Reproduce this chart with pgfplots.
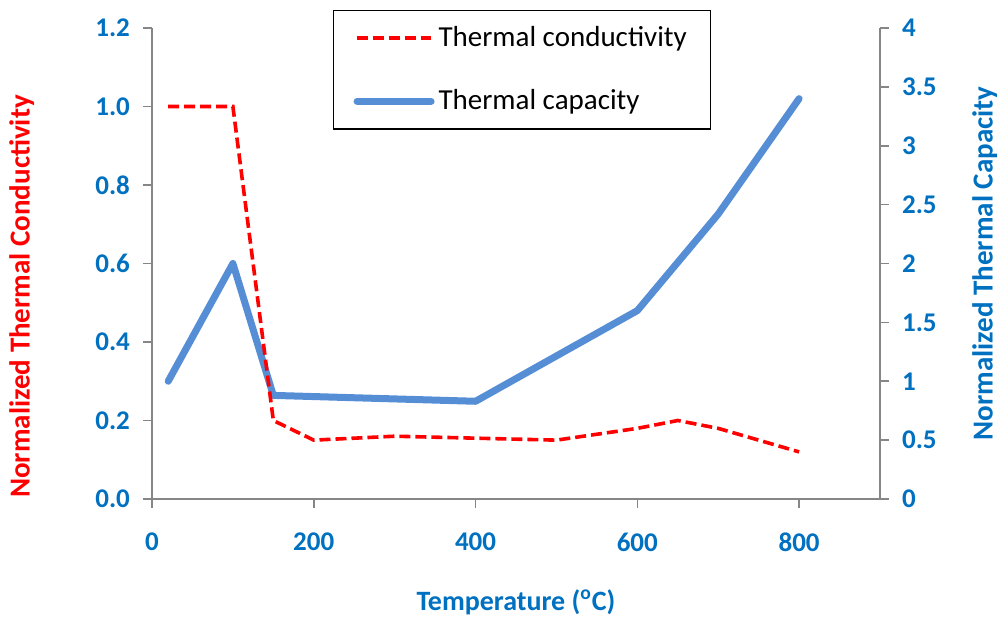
\documentclass[border=0pt]{standalone}
\usepackage{pgfplots}
\pgfplotsset{compat=1.18}
\usepackage{fontspec}
\setmainfont{Carlito}
\definecolor{tickblue}{RGB}{0,112,192}
\definecolor{capblue}{RGB}{85,142,213}
\definecolor{axgray}{RGB}{134,134,134}

\begin{document}
\begin{tikzpicture}
\path[use as bounding box] (-76pt,-59.5pt) rectangle (423.5pt,249.5pt);
\pgfplotsset{
  every axis/.append style={
    scale only axis, width=364pt, height=235.5pt,
    xmin=0, xmax=900,
    axis line style={axgray, line width=0.8pt},
    tick style={axgray, line width=0.8pt},
    major tick length=4.5pt,
    tick align=outside,
    ticklabel style={font=\fontsize{13.5}{15}\selectfont\bfseries, text=tickblue},
    /pgf/number format/assume math mode=true,
    label style={font=\fontsize{14.5}{16}\selectfont\bfseries},
    clip=false,
  },
}
% thermal capacity, right axis (drawn first so the red line lies on top)
\begin{axis}[
  axis x line=none,
  axis y line*=right,
  ymin=0, ymax=4,
  ytick={0,0.5,...,4},
  yticklabel style={xshift=3pt},
  ylabel={Normalized Thermal Capacity},
  ylabel style={at={(axis description cs:1.144,0.5)}, anchor=center, text=tickblue},
]
\addplot[capblue, line width=3.5pt, line cap=round, line join=round] coordinates {
(20,1.0) (100,2.0) (150,0.88) (400,0.83) (600,1.6) (700,2.42) (800,3.4)
};
\end{axis}
% thermal conductivity, left axis
\begin{axis}[
  axis x line*=bottom,
  axis y line*=left,
  ymin=0, ymax=1.2,
  ytick={0,0.2,...,1.2},
  xtick={0,200,...,800},
  yticklabel style={/pgf/number format/.cd, fixed, fixed zerofill, precision=1, /tikz/.cd, xshift=-3pt},
  xticklabel style={yshift=-9pt},
  ylabel={Normalized Thermal Conductivity},
  ylabel style={at={(axis description cs:-0.179,0.43)}, anchor=center, text=red},
  xlabel={Temperature (\textsuperscript{o}C)},
  xlabel style={at={(axis description cs:0.5,-0.219)}, anchor=center, text=tickblue, font=\fontsize{14}{16}\selectfont\bfseries},
  legend style={at={(axis description cs:0.2486,1.038)}, anchor=north west,
    draw=black, line width=0.6pt, fill=white,
    font=\fontsize{14.5}{16}\selectfont, inner xsep=10pt, inner ysep=6pt,
    row sep=16pt, cells={anchor=west}},
  legend image code/.code={\draw[#1] (0pt,0pt) -- (37pt,0pt);},
]
\addplot[red, line width=1.8pt, dash pattern=on 5.5pt off 2.5pt] coordinates {
(20,1.0) (100,1.0) (150,0.2) (200,0.15) (300,0.16) (400,0.155) (500,0.15) (600,0.18) (650,0.2) (700,0.18) (800,0.12)
};
\addlegendentry{Thermal conductivity}
\addlegendimage{capblue, line width=3.5pt, line cap=round}
\addlegendentry{Thermal capacity}
\end{axis}
\end{tikzpicture}
\end{document}
